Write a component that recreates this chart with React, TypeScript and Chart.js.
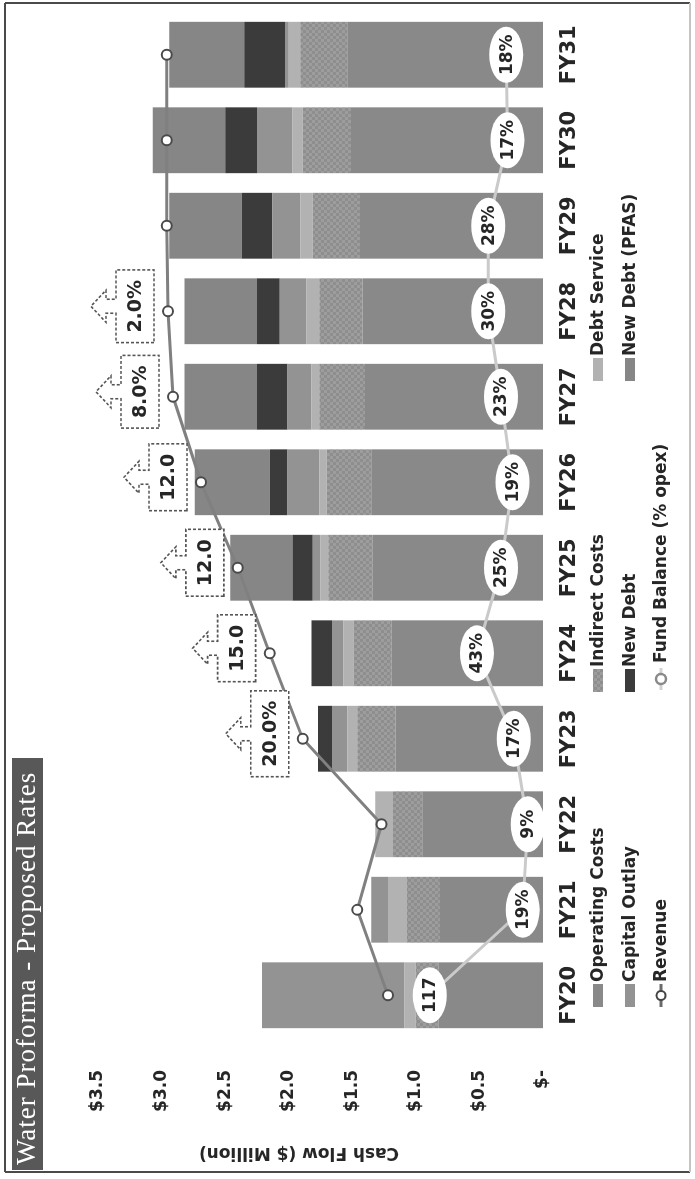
import React, { useEffect, useRef } from "react";
import { Chart, registerables } from "chart.js";

Chart.register(...registerables);

// ---------- data ----------
const categories = ["FY20", "FY21", "FY22", "FY23", "FY24", "FY25", "FY26", "FY27", "FY28", "FY29", "FY30", "FY31"];
const operatingCosts = [0.82, 0.81, 0.95, 1.16, 1.19, 1.34, 1.35, 1.4, 1.42, 1.44, 1.51, 1.54];
const indirectCosts = [0.18, 0.26, 0.23, 0.3, 0.3, 0.35, 0.35, 0.36, 0.34, 0.37, 0.38, 0.37];
const debtService = [0.09, 0.15, 0.14, 0.08, 0.08, 0.06, 0.06, 0.06, 0.1, 0.1, 0.08, 0.09];
const capitalOutlay = [1.12, 0.13, 0, 0.12, 0.09, 0.06, 0.25, 0.19, 0.21, 0.22, 0.28, 0.03];
const newDebt = [0, 0, 0, 0.11, 0.16, 0.16, 0.14, 0.24, 0.18, 0.24, 0.25, 0.32];
const newDebtPfas = [0, 0, 0, 0, 0, 0.49, 0.59, 0.57, 0.57, 0.57, 0.57, 0.59];
const revenue = [1.22, 1.46, 1.27, 1.89, 2.15, 2.4, 2.69, 2.91, 2.95, 2.96, 2.96, 2.96];
const fundBalance = [0.89, 0.16, 0.12, 0.23, 0.52, 0.33, 0.24, 0.33, 0.43, 0.43, 0.28, 0.29];
const fundBalanceLabels = ["117", "19%", "9%", "17%", "43%", "25%", "19%", "23%", "30%", "28%", "17%", "18%"];
const rateIncreaseLabels = ["", "", "", "20.0%", "15.0", "12.0", "12.0", "8.0%", "2.0%", "", "", ""];
const yTickValues = [0, 0.5, 1, 1.5, 2, 2.5, 3, 3.5];
const yTickLabels = ["$-", "$0.5", "$1.0", "$1.5", "$2.0", "$2.5", "$3.0", "$3.5"];

const TITLE = "Water Proforma - Proposed Rates";
const Y_TITLE = "Cash Flow ($ Million)";

// ---------- layout / style ----------
const W = 1179;
const H = 695;
const FONT = '"DejaVu Sans", Verdana, sans-serif';
const TEXT = "#262626";
const legendCols = [172, 487, 798];
const legendRows = [598, 630, 661];

export default function App() {
  const canvasRef = useRef<HTMLCanvasElement | null>(null);

  useEffect(() => {
    const canvas = canvasRef.current;
    if (!canvas) return;
    const ctx = canvas.getContext("2d");
    if (!ctx) return;

    const pc = document.createElement("canvas");
    pc.width = 6;
    pc.height = 6;
    const pg = pc.getContext("2d")!;
    pg.fillStyle = "#8e8e8e";
    pg.fillRect(0, 0, 6, 6);
    pg.fillStyle = "#9d9d9d";
    pg.fillRect(0, 0, 3, 3);
    pg.fillRect(3, 3, 3, 3);
    const checker = ctx.createPattern(pc, "repeat") as CanvasPattern;

    const bar = (label: string, data: number[], bg: any, kind: string) => ({
      type: "bar" as const,
      label,
      data,
      backgroundColor: bg,
      borderWidth: 0,
      stack: "cost",
      order: 2,
      barPercentage: 0.77,
      categoryPercentage: 1,
      legendKind: kind,
    });

    const datasets: any[] = [
      bar("Operating Costs", operatingCosts, "#898989", "box"),
      bar("Indirect Costs", indirectCosts, checker, "box"),
      bar("Debt Service", debtService, "#b2b2b2", "box"),
      bar("Capital Outlay", capitalOutlay, "#939393", "box"),
      bar("New Debt", newDebt, "#3b3b3b", "box"),
      bar("New Debt (PFAS)", newDebtPfas, "#868686", "box"),
      {
        type: "line",
        label: "Revenue",
        data: revenue,
        stack: "rev",
        order: 0,
        borderColor: "#808080",
        borderWidth: 3,
        tension: 0,
        pointRadius: 5,
        pointBackgroundColor: "#ffffff",
        pointBorderColor: "#4a4a4a",
        pointBorderWidth: 2,
        legendKind: "rev",
      },
      {
        type: "line",
        label: "Fund Balance (% opex)",
        data: fundBalance,
        stack: "fund",
        order: 1,
        borderColor: "#cacaca",
        borderWidth: 3,
        tension: 0,
        pointRadius: 0,
        legendKind: "fund",
      },
    ];

    const decor = {
      id: "decor",
      beforeDraw(chart: any) {
        const c = chart.ctx as CanvasRenderingContext2D;
        c.save();
        c.fillStyle = "#ffffff";
        c.fillRect(0, 0, W, H);
        c.lineWidth = 2;
        c.strokeStyle = "#4a4a4a";
        c.beginPath();
        c.moveTo(7, 5);
        c.lineTo(1176, 5);
        c.moveTo(7, 5);
        c.lineTo(7, 690);
        c.moveTo(1176, 5);
        c.lineTo(1176, 690);
        c.stroke();
        c.strokeStyle = "#c4c4c4";
        c.beginPath();
        c.moveTo(7, 690);
        c.lineTo(1176, 690);
        c.stroke();
        // title bar
        c.fillStyle = "#585858";
        c.fillRect(9, 12, 412, 31);
        c.fillStyle = "#ffffff";
        c.font = '27px "Liberation Serif", serif';
        (c as any).letterSpacing = "1px";
        c.textBaseline = "middle";
        c.textAlign = "left";
        c.fillText(TITLE, 14, 28);
        (c as any).letterSpacing = "0px";
        c.restore();
      },
      afterDatasetsDraw(chart: any) {
        const c = chart.ctx as CanvasRenderingContext2D;
        const fi = chart.data.datasets.findIndex((d: any) => d.legendKind === "fund");
        const meta = chart.getDatasetMeta(fi);
        c.save();
        c.font = `bold 17px ${FONT}`;
        c.textAlign = "center";
        c.textBaseline = "middle";
        meta.data.forEach((pt: any, i: number) => {
          c.beginPath();
          c.ellipse(pt.x, pt.y, 28, 17, 0, 0, Math.PI * 2);
          c.fillStyle = "#ffffff";
          c.fill();
          c.fillStyle = TEXT;
          c.fillText(fundBalanceLabels[i], pt.x, pt.y + 1);
        });
        c.restore();
      },
      afterDraw(chart: any) {
        const c = chart.ctx as CanvasRenderingContext2D;
        const xs = chart.scales.x;
        const ys = chart.scales.y;
        c.save();
        // rate increase callouts (up-arrow callouts above revenue points)
        c.font = `bold 19px ${FONT}`;
        c.textAlign = "center";
        c.textBaseline = "middle";
        rateIncreaseLabels.forEach((lab, i) => {
          if (!lab) return;
          const cx = xs.getPixelForValue(i) + 5;
          const ry = ys.getPixelForValue(revenue[i]);
          const bottom = ry - 14;
          const top = bottom - 38;
          const w = c.measureText(lab).width + 20;
          const L = cx - w / 2;
          const R = cx + w / 2;
          c.beginPath();
          c.moveTo(L, bottom);
          c.lineTo(L, top);
          c.lineTo(cx - 7, top);
          c.lineTo(cx - 7, top - 10);
          c.lineTo(cx - 16, top - 10);
          c.lineTo(cx, top - 25);
          c.lineTo(cx + 16, top - 10);
          c.lineTo(cx + 7, top - 10);
          c.lineTo(cx + 7, top);
          c.lineTo(R, top);
          c.lineTo(R, bottom);
          c.closePath();
          c.fillStyle = "#ffffff";
          c.fill();
          c.setLineDash([3, 2]);
          c.lineWidth = 1.6;
          c.strokeStyle = "#555555";
          c.stroke();
          c.setLineDash([]);
          c.fillStyle = TEXT;
          c.fillText(lab, cx, (top + bottom) / 2 + 1);
        });
        // y-axis title
        c.save();
        c.translate(27, 299);
        c.rotate(-Math.PI / 2);
        c.font = `bold 17px ${FONT}`;
        c.fillStyle = TEXT;
        c.textAlign = "center";
        c.textBaseline = "middle";
        c.fillText(Y_TITLE, 0, 0);
        c.restore();
        // legend
        c.font = `bold 17px ${FONT}`;
        c.textAlign = "left";
        c.textBaseline = "middle";
        chart.data.datasets.forEach((ds: any, i: number) => {
          const u0 = legendCols[i % 3];
          const vc = legendRows[Math.floor(i / 3)];
          if (ds.legendKind === "box") {
            c.fillStyle = ds.backgroundColor;
            c.fillRect(u0, vc - 5, 23, 10);
          } else if (ds.legendKind === "rev") {
            c.strokeStyle = "#6a6a6a";
            c.lineWidth = 3;
            c.beginPath();
            c.moveTo(u0, vc);
            c.lineTo(u0 + 23, vc);
            c.stroke();
            c.beginPath();
            c.arc(u0 + 11.5, vc, 4.5, 0, Math.PI * 2);
            c.fillStyle = "#fff";
            c.fill();
            c.lineWidth = 2;
            c.strokeStyle = "#444";
            c.stroke();
          } else {
            c.strokeStyle = "#d2d2d2";
            c.lineWidth = 3;
            c.beginPath();
            c.moveTo(u0 + 2, vc);
            c.lineTo(u0 + 24, vc);
            c.stroke();
            c.beginPath();
            c.arc(u0 + 13, vc, 5, 0, Math.PI * 2);
            c.fillStyle = "#fff";
            c.fill();
            c.lineWidth = 2.5;
            c.strokeStyle = "#8a8a8a";
            c.stroke();
          }
          c.fillStyle = TEXT;
          c.fillText(ds.label, u0 + (ds.legendKind === "fund" ? 29 : 25), vc + 1);
        });
        c.restore();
      },
    };

    const chart = new Chart(ctx, {
      type: "bar",
      data: { labels: categories, datasets },
      options: {
        animation: false,
        responsive: false,
        devicePixelRatio: 1,
        layout: { padding: { left: 10, right: 12, top: 98, bottom: 112 } },
        plugins: {
          legend: { display: false },
          title: { display: false },
          tooltip: { enabled: false },
        },
        scales: {
          x: {
            stacked: true,
            grid: { display: false },
            border: { display: false },
            ticks: {
              font: { family: FONT, size: 21, weight: "bold" },
              color: TEXT,
              padding: 6,
            },
            afterFit: (s: any) => {
              s.height = 40;
            },
          },
          y: {
            stacked: true,
            min: 0,
            max: 3.5,
            grid: { display: false },
            border: { display: false },
            ticks: {
              stepSize: 0.5,
              font: { family: FONT, size: 17, weight: "bold" },
              color: TEXT,
              padding: 24,
              callback: (v: any) => {
                const idx = yTickValues.indexOf(Number(v));
                return idx >= 0 ? yTickLabels[idx] : "";
              },
            },
            afterFit: (s: any) => {
              s.width = 131;
            },
          },
        },
      } as any,
      plugins: [decor],
    });

    return () => chart.destroy();
  }, []);

  return (
    <div
      style={{
        position: "fixed",
        left: 0,
        top: 0,
        width: 695,
        height: 1179,
        overflow: "hidden",
        background: "#ffffff",
      }}
    >
      <div
        style={{
          position: "absolute",
          left: 0,
          top: 0,
          width: W,
          height: H,
          transformOrigin: "0 0",
          transform: `translateY(${W}px) rotate(-90deg)`,
        }}
      >
        <canvas
          ref={canvasRef}
          width={W}
          height={H}
          style={{ display: "block", width: W, height: H }}
        />
      </div>
    </div>
  );
}
